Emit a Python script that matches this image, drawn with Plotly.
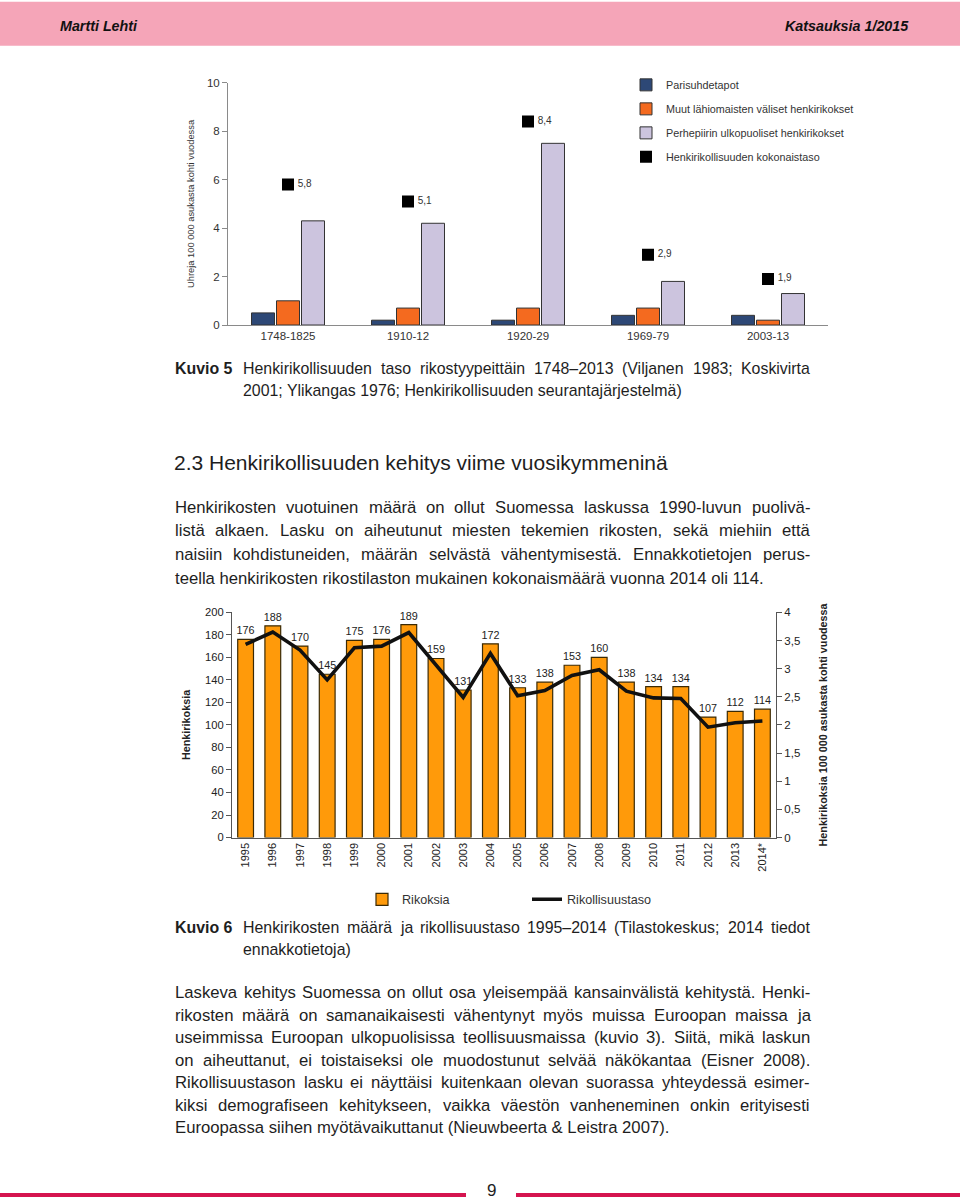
import plotly.graph_objects as go

W, H = 960, 1202
# The photographed page maps figure pixel y to about 6.3 + 0.989*y; compensate so marks land
# at the reference's pixel positions.
SY_OFF, SY_SCALE = 6.3, 0.989
def X(px): return px / W
def Y(py): return 1 - ((py - SY_OFF) / SY_SCALE) / H

# ---------- Data: Kuvio 5 ----------
periods = ["1748-1825", "1910-12", "1920-29", "1969-79", "2003-13"]
parisuhde = [0.5, 0.2, 0.2, 0.4, 0.4]
muut_lahi = [1.0, 0.7, 0.7, 0.7, 0.2]
perhepiiri_ulk = [4.3, 4.2, 7.5, 1.8, 1.3]
kokonaistaso = [5.8, 5.1, 8.4, 2.9, 1.9]

# ---------- Data: Kuvio 6 ----------
years = ["1995", "1996", "1997", "1998", "1999", "2000", "2001", "2002", "2003", "2004",
         "2005", "2006", "2007", "2008", "2009", "2010", "2011", "2012", "2013", "2014*"]
rikoksia = [176, 188, 170, 145, 175, 176, 189, 159, 131, 172,
            133, 138, 153, 160, 138, 134, 134, 107, 112, 114]
rikollisuustaso = [3.43, 3.65, 3.33, 2.80, 3.37, 3.40, 3.64, 3.07, 2.49, 3.27,
                   2.52, 2.61, 2.88, 2.98, 2.60, 2.48, 2.47, 1.96, 2.04, 2.07]

BODY = "Liberation Sans, Arial, sans-serif"
TXT = "#1e1e1e"

fig = go.Figure()

# ---- Kuvio 5 bars ----
fig.add_trace(go.Bar(x=periods, y=parisuhde, name="Parisuhdetapot",
                     marker=dict(color="#2D4876", line=dict(color="#333333", width=1)),
                     xaxis="x", yaxis="y", legend="legend", legendgroup="a"))
fig.add_trace(go.Bar(x=periods, y=muut_lahi, name="Muut lähiomaisten väliset henkirikokset",
                     marker=dict(color="#F46A1F", line=dict(color="#333333", width=1)),
                     xaxis="x", yaxis="y", legend="legend", legendgroup="b"))
fig.add_trace(go.Bar(x=periods, y=perhepiiri_ulk, name="Perhepiirin ulkopuoliset henkirikokset",
                     marker=dict(color="#CCC4DE", line=dict(color="#333333", width=1)),
                     xaxis="x", yaxis="y", legend="legend", legendgroup="c"))
fig.add_trace(go.Scatter(x=periods, y=kokonaistaso, mode="markers",
                         name="Henkirikollisuuden kokonaistaso",
                         marker=dict(symbol="square", size=12, color="#000000"),
                         xaxis="x", yaxis="y", legend="legend", legendgroup="d"))
fig.add_trace(go.Scatter(x=periods, y=kokonaistaso, mode="markers+text",
                         text=[f"{v:.1f}".replace(".", ",") for v in kokonaistaso],
                         textposition="middle right",
                         textfont=dict(size=10, color="#333333", family=BODY),
                         marker=dict(symbol="square", size=14, opacity=0),
                         showlegend=False, xaxis="x", yaxis="y", hoverinfo="skip"))

# ---- Kuvio 6 ----
fig.add_trace(go.Bar(x=years, y=rikoksia, name="Rikoksia", width=0.58,
                     marker=dict(color="#FF9A0A", line=dict(color="#3b2a05", width=1.2)),
                     text=[str(v) for v in rikoksia], textposition="outside",
                     constraintext="none",
                     textfont=dict(size=10.8, color="#222222", family=BODY),
                     cliponaxis=False,
                     xaxis="x2", yaxis="y2", legend="legend2"))
fig.add_trace(go.Scatter(x=years, y=rikollisuustaso, mode="lines", name="Rikollisuustaso",
                         line=dict(color="#111111", width=3.6),
                         xaxis="x2", yaxis="y3", legend="legend2"))

fig.update_layout(
    width=W, height=H, margin=dict(l=0, r=0, t=0, b=0),
    paper_bgcolor="white", plot_bgcolor="rgba(0,0,0,0)",
    separators=", ",
    barmode="group", bargap=0.375, bargroupgap=0.08,
    font=dict(family=BODY, color=TXT),
    xaxis=dict(domain=[X(228), X(828)], anchor="y", type="category", ticks="",
               showgrid=False, zeroline=False, showline=True, linecolor="#8a8a8a",
               tickfont=dict(size=11.5, color="#333333", family=BODY)),
    yaxis=dict(domain=[Y(325), Y(83)], anchor="x", range=[0, 10], dtick=2,
               ticks="outside", ticklen=5, tickcolor="#8a8a8a",
               showgrid=False, zeroline=False, showline=True, linecolor="#8a8a8a",
               tickfont=dict(size=11.5, color="#333333", family=BODY),
               title=dict(text="Uhreja 100 000 asukasta kohti vuodessa",
                          font=dict(size=9.3, color="#333333", family=BODY), standoff=10)),
    xaxis2=dict(domain=[X(232), X(776)], anchor="y2", type="category", ticks="", tickangle=-90,
                showgrid=False, zeroline=False, showline=True, linecolor="#555555",
                tickfont=dict(size=11, color="#222222", family=BODY)),
    yaxis2=dict(domain=[Y(837), Y(612)], anchor="x2", range=[0, 200], dtick=20,
                ticks="outside", ticklen=5, tickcolor="#555555",
                showgrid=False, zeroline=False, showline=True, linecolor="#555555",
                tickfont=dict(size=11.2, color="#222222", family=BODY),
                title=dict(text="<b>Henkirikoksia</b>",
                           font=dict(size=10.8, color="#222222", family=BODY), standoff=12)),
    yaxis3=dict(overlaying="y2", side="right", anchor="x2", range=[0, 4], dtick=0.5,
                ticks="outside", ticklen=5, tickcolor="#555555",
                showgrid=False, zeroline=False, showline=True, linecolor="#555555",
                tickfont=dict(size=11.5, color="#222222", family=BODY),
                title=dict(text="<b>Henkirikoksia 100 000 asukasta kohti vuodessa</b>",
                           font=dict(size=10.8, color="#222222", family=BODY), standoff=20)),
    legend=dict(x=X(626), y=Y(70.6), xanchor="left", yanchor="top",
                font=dict(size=10.8, color="#333333", family=BODY),
                tracegroupgap=5, itemwidth=30, bgcolor="rgba(0,0,0,0)"),
    legend2=dict(orientation="h", x=X(362), y=Y(884), xanchor="left", yanchor="top",
                 font=dict(size=12.6, color="#333333", family=BODY),
                 entrywidth=120, entrywidthmode="pixels", bgcolor="rgba(0,0,0,0)"),
)

shapes = []
shapes.append(dict(type="rect", xref="paper", yref="paper", x0=0, x1=1, y0=Y(46), y1=Y(2),
                   fillcolor="#F5A5B8", line=dict(width=0), layer="below"))
shapes.append(dict(type="line", xref="paper", yref="paper", x0=X(0), x1=X(466), y0=Y(1194), y1=Y(1194),
                   line=dict(color="#D5144F", width=4)))
shapes.append(dict(type="line", xref="paper", yref="paper", x0=X(516), x1=X(960), y0=Y(1194), y1=Y(1194),
                   line=dict(color="#D5144F", width=4)))
fig.update_layout(shapes=shapes)

# Arial / Liberation Sans advance widths (per 1000 em) for justification
AW = {" ": 278, "!": 278, "&": 667, "(": 333, ")": 333, "*": 389, ",": 278, "-": 333, ".": 278,
      "/": 278, ":": 278, ";": 278, "–": 556}
for c in "0123456789":
    AW[c] = 556
AW.update(dict(A=667, B=667, C=722, D=722, E=667, F=611, G=778, H=722, I=278, J=500, K=667,
               L=556, M=833, N=722, O=778, P=667, Q=778, R=722, S=667, T=611, U=722, V=667,
               W=944, X=667, Y=667, Z=611))
AW.update(dict(a=556, b=556, c=500, d=556, e=556, f=278, g=556, h=556, i=222, j=222, k=500,
               l=222, m=833, n=556, o=556, p=556, q=556, r=333, s=500, t=278, u=556, v=500,
               w=722, x=500, y=500, z=500))
AW.update({"ä": 556, "ö": 556, "å": 556, "Ä": 667, "Ö": 778})

def tw(s, size):
    return sum(AW.get(c, 556) for c in s) / 1000 * size

ann = []
def txt(text, x, y, size=16, bold=False, italic=False, anchor="left", color=TXT):
    t = text
    if bold:
        t = f"<b>{t}</b>"
    if italic:
        t = f"<i>{t}</i>"
    ann.append(dict(text=t, x=X(x), y=Y(y), xref="paper", yref="paper", xanchor=anchor,
                    yanchor="middle", showarrow=False, borderpad=0, borderwidth=0,
                    font=dict(size=size, family=BODY, color=color)))

def jline(line, x0, x1, y, size, justify=True):
    words = line.split(" ")
    if not justify or len(words) < 2:
        txt(line, x0, y, size=size)
        return
    widths = [tw(w, size) for w in words]
    gap = (x1 - x0 - sum(widths)) / (len(words) - 1)
    x = x0
    for w, wd in zip(words, widths):
        txt(w, x, y, size=size)
        x += wd + gap

txt("Martti Lehti", 60, 26.5, size=14.3, bold=True, italic=True, color="#111111")
txt("Katsauksia 1/2015", 909, 26.5, size=14.3, bold=True, italic=True, anchor="right", color="#111111")

CAP = 15.9
txt("Kuvio 5", 175, 368, size=CAP, bold=True)
jline("Henkirikollisuuden taso rikostyypeittäin 1748–2013 (Viljanen 1983; Koskivirta", 243, 810, 368, CAP)
jline("2001; Ylikangas 1976; Henkirikollisuuden seurantajärjestelmä)", 243, 810, 390, CAP, justify=False)

txt("2.3 Henkirikollisuuden kehitys viime vuosikymmeninä", 174, 462, size=21)

BS = 16.7
p1 = ["Henkirikosten vuotuinen määrä on ollut Suomessa laskussa 1990-luvun puolivä-",
      "listä alkaen. Lasku on aiheutunut miesten tekemien rikosten, sekä miehiin että",
      "naisiin kohdistuneiden, määrän selvästä vähentymisestä. Ennakkotietojen perus-",
      "teella henkirikosten rikostilaston mukainen kokonaismäärä vuonna 2014 oli 114."]
for i, line in enumerate(p1):
    jline(line, 175, 810, 507 + i * 23.7, BS, justify=(i < len(p1) - 1))

txt("Kuvio 6", 175, 927, size=CAP, bold=True)
jline("Henkirikosten määrä ja rikollisuustaso 1995–2014 (Tilastokeskus; 2014 tiedot", 243, 810, 927, CAP)
jline("ennakkotietoja)", 243, 810, 949, CAP, justify=False)

p2 = ["Laskeva kehitys Suomessa on ollut osa yleisempää kansainvälistä kehitystä. Henki-",
      "rikosten määrä on samanaikaisesti vähentynyt myös muissa Euroopan maissa ja",
      "useimmissa Euroopan ulkopuolisissa teollisuusmaissa (kuvio 3). Siitä, mikä laskun",
      "on aiheuttanut, ei toistaiseksi ole muodostunut selvää näkökantaa (Eisner 2008).",
      "Rikollisuustason lasku ei näyttäisi kuitenkaan olevan suorassa yhteydessä esimer-",
      "kiksi demografiseen kehitykseen, vaikka väestön vanheneminen onkin erityisesti",
      "Euroopassa siihen myötävaikuttanut (Nieuwbeerta & Leistra 2007)."]
for i, line in enumerate(p2):
    jline(line, 175, 810, 992 + i * 22.5, BS, justify=(i < len(p2) - 1))

txt("9", 491, 1189.5, size=17, anchor="center")

fig.update_layout(annotations=ann)

fig.write_html(
    "out.html",
    config={"displayModeBar": False},
    post_script=("document.body.style.margin='0px';"
                 "document.body.style.overflow='hidden';"
                 "document.documentElement.style.overflow='hidden';"),
)
